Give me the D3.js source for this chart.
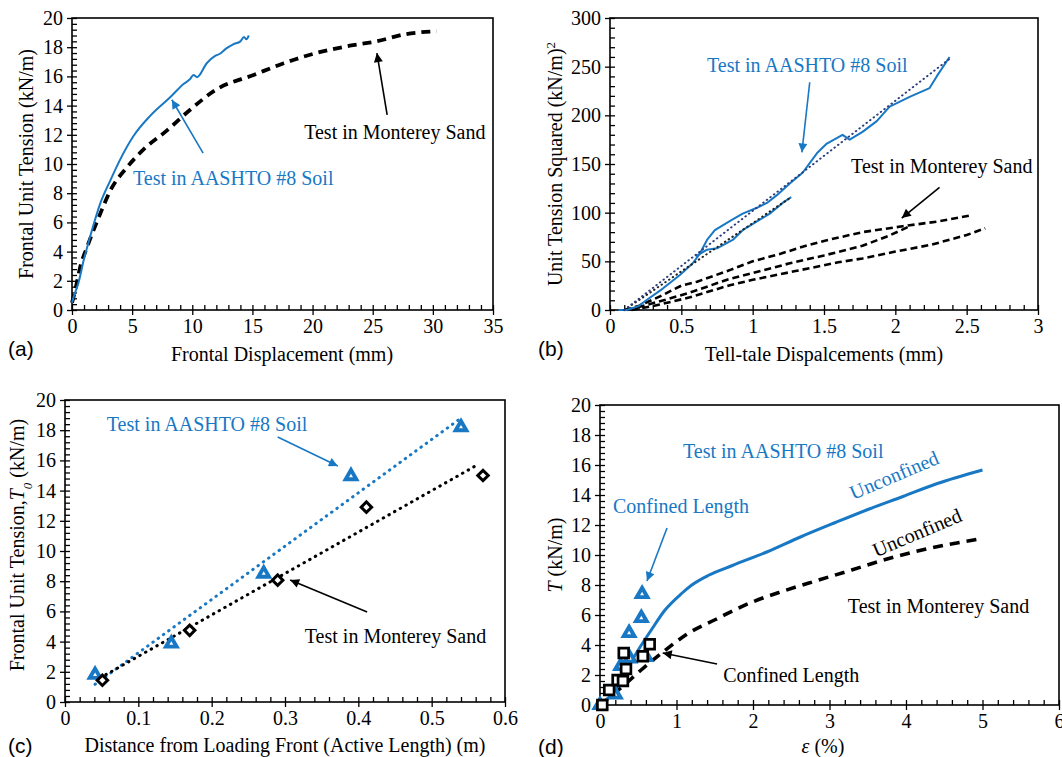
<!DOCTYPE html>
<html>
<head>
<meta charset="utf-8">
<script src="https://cdn.jsdelivr.net/npm/d3@7"></script>
<style>
  body { margin: 0; background: #fff; }
</style>
</head>
<body>
<svg id="fig" width="1062" height="757" style="font-family: 'Liberation Serif', 'DejaVu Serif', serif;"></svg>
<script>
var BLUE = '#1878c4';
var SERIF = "'Liberation Serif', 'DejaVu Serif', serif";
var SANS = "'Liberation Sans', Arial, sans-serif";

// (a) frontal unit tension vs frontal displacement
var aTicksX = [0, 5, 10, 15, 20, 25, 30, 35];
var aTicksY = [0, 2, 4, 6, 8, 10, 12, 14, 16, 18, 20];
var aAashto = [[0,0.5],[0.14,0.9],[0.55,1.9],[0.97,3.4],[1.5,5.0],[2.35,7.3],[3.2,8.9],[4.0,10.3],[5.1,11.9],
  [6.5,13.3],[8.2,14.6],[9.3,15.5],[9.8,15.8],[10.1,16.1],[10.4,15.95],[11.2,16.9],[11.9,17.4],[12.3,17.55],
  [12.8,17.9],[13.4,18.2],[14.0,18.4],[14.3,18.7],[14.5,18.55],[14.7,18.8]];
var aMonterey = [[0,0.5],[0.28,1.4],[0.7,3.0],[1.25,4.3],[2.35,6.6],[3.2,8.2],[4.6,9.8],[5.95,11.0],[7.9,12.3],
  [9.8,13.7],[12.0,15.1],[15.1,16.1],[17.6,16.9],[20.3,17.6],[23.1,18.1],[25.3,18.4],[27.8,18.9],[30.3,19.1]];

// (b) unit tension squared vs tell-tale displacements
var bTicksX = [0, 0.5, 1, 1.5, 2, 2.5, 3];
var bTicksY = [0, 50, 100, 150, 200, 250, 300];
var bAashto = [[0.06,0],[0.117,0],[0.2,4],[0.257,10.3],[0.37,22],[0.49,36],[0.58,48],[0.63,58],[0.68,72],
  [0.735,82],[0.79,87],[0.86,93],[0.93,99],[1.03,105],[1.10,110],[1.17,118],[1.26,130],[1.35,141],[1.45,161],
  [1.52,171],[1.63,180],[1.68,175],[1.77,183],[1.87,194],[1.96,209],[2.1,219],[2.24,228],[2.29,240],[2.38,260]];
var bAashtoLower = [[0.6,55],[0.68,62],[0.75,63.4],[0.86,72],[0.93,82],[1.03,91],[1.12,99],[1.21,110],[1.27,116]];
var bFitUpper = [[0.1,0],[2.38,258]];
var bFitLower = [[0.1,0],[1.26,115]];
var bMontereyTop = [[0.1,0],[0.2,4],[0.35,14],[0.5,25],[0.61,29],[0.84,41],[1.0,50],[1.2,58],[1.35,65],[1.5,71],
  [1.77,80],[2.05,86],[2.3,91],[2.52,97]];
var bMontereyMid = [[0.12,0],[0.25,5],[0.4,11],[0.56,18],[0.84,32],[1.0,38],[1.26,48],[1.5,56],[1.77,66],
  [1.95,76],[2.1,86]];
var bMontereyLow = [[0.15,0],[0.3,4],[0.56,13],[0.84,25.5],[1.0,31],[1.3,40],[1.6,49],[1.77,53],[2.0,60],
  [2.25,67],[2.5,77],[2.63,84]];

// (c) frontal unit tension vs active length
var cTicksX = [0, 0.1, 0.2, 0.3, 0.4, 0.5, 0.6];
var cTicksY = [0, 2, 4, 6, 8, 10, 12, 14, 16, 18, 20];
var cAashto = [[0.041,1.8],[0.145,3.87],[0.271,8.5],[0.39,14.96],[0.54,18.2]];
var cMonterey = [[0.051,1.44],[0.170,4.75],[0.29,8.07],[0.411,12.9],[0.57,15.0]];
var cFitAashto = [[0.041,1.17],[0.54,18.8]];
var cFitMonterey = [[0.048,1.6],[0.564,15.75]];

// (d) T vs strain
var dTicksX = [0, 1, 2, 3, 4, 5, 6];
var dTicksY = [0, 2, 4, 6, 8, 10, 12, 14, 16, 18, 20];
var dAashto = [[0,0],[0.2,1.0],[0.37,2.55],[0.5,3.67],[0.67,5.0],[0.85,6.33],[1.07,7.45],[1.2,8.0],[1.42,8.65],
  [1.73,9.3],[2.18,10.2],[2.62,11.2],[3.07,12.15],[3.51,13.05],[3.96,13.9],[4.4,14.75],[5.0,15.67]];
var dMonterey = [[0,0],[0.31,1.3],[0.53,2.3],[0.84,3.6],[1.16,4.8],[1.51,5.7],[1.96,6.8],[2.4,7.6],[2.84,8.3],
  [3.29,9.0],[3.73,9.7],[4.18,10.3],[5.0,11.1]];
var dConfAashto = [[0,0],[0.2,0.7],[0.27,2.6],[0.39,3.1],[0.38,4.8],[0.54,5.8],[0.55,7.4],[0.6,3.2]];
var dConfMonterey = [[0.03,0],[0.12,1.0],[0.23,1.67],[0.3,1.6],[0.34,2.4],[0.31,3.47],[0.56,3.25],[0.65,4.05]];

var svg = d3.select('#fig');
var defs = svg.append('defs');
[['arrBlue', BLUE], ['arrBlack', '#000']].forEach(function(a) {
  defs.append('marker')
    .attr('id', a[0])
    .attr('viewBox', '0 0 10 10')
    .attr('refX', 10).attr('refY', 5)
    .attr('markerUnits', 'userSpaceOnUse')
    .attr('markerWidth', 12).attr('markerHeight', 9)
    .attr('orient', 'auto')
    .append('path').attr('d', 'M0,0 L10,5 L0,10 z').attr('fill', a[1]);
});

function makePanel(o) {
  var g = svg.append('g').attr('font-family', SERIF);
  var x = d3.scaleLinear().domain([o.xTicks[0], o.xTicks[o.xTicks.length - 1]]).range([o.left, o.right]);
  var y = d3.scaleLinear().domain([o.yTicks[0], o.yTicks[o.yTicks.length - 1]]).range([o.bottom, o.top]);
  var xStep = (o.xTicks[1] - o.xTicks[0]) / 5;
  var yStep = (o.yTicks[1] - o.yTicks[0]) / 5;
  var xMinor = d3.range(x.domain()[0], x.domain()[1] + xStep / 2, xStep);
  var yMinor = d3.range(y.domain()[0], y.domain()[1] + yStep / 2, yStep);

  function clean(sel) {
    sel.select('.domain').remove();
    sel.attr('font-family', SERIF).attr('font-size', 20);
    sel.selectAll('line').attr('stroke-width', 1.3);
  }

  // inner ticks
  g.append('g').attr('transform', 'translate(0,' + o.bottom + ')')
    .call(d3.axisTop(x).tickValues(xMinor).tickSize(5).tickFormat('')).call(clean);
  g.append('g').attr('transform', 'translate(' + o.left + ',0)')
    .call(d3.axisRight(y).tickValues(yMinor).tickSize(5).tickFormat('')).call(clean);
  // outer major ticks with labels
  g.append('g').attr('transform', 'translate(0,' + o.bottom + ')')
    .call(d3.axisBottom(x).tickValues(o.xTicks).tickSize(5).tickPadding(4).tickFormat(d3.format('~g'))).call(clean);
  g.append('g').attr('transform', 'translate(' + o.left + ',0)')
    .call(d3.axisLeft(y).tickValues(o.yTicks).tickSize(5).tickPadding(4).tickFormat(d3.format('~g'))).call(clean);

  g.append('rect')
    .attr('x', o.left).attr('y', o.top)
    .attr('width', o.right - o.left).attr('height', o.bottom - o.top)
    .attr('fill', 'none').attr('stroke', '#000').attr('stroke-width', 1.6);

  return {
    g: g, x: x, y: y,
    path: function(data, stroke, width, dash, cap, curve) {
      var line = d3.line()
        .x(function(d) { return x(d[0]); })
        .y(function(d) { return y(d[1]); })
        .curve(curve || d3.curveLinear);
      g.append('path').datum(data)
        .attr('d', line)
        .attr('fill', 'none')
        .attr('stroke', stroke)
        .attr('stroke-width', width)
        .attr('stroke-dasharray', dash || null)
        .attr('stroke-linecap', cap || 'butt')
        .attr('stroke-linejoin', 'round');
    },
    points: function(data, type, size, stroke, width, rot, fill) {
      var pts = g.selectAll(null).data(data).enter().append('g')
        .attr('transform', function(d) {
          return 'translate(' + x(d[0]) + ',' + y(d[1]) + ')' + (rot ? ' rotate(' + rot + ')' : '');
        });
      pts.append('path')
        .attr('d', d3.symbol().type(type).size(size))
        .attr('fill', fill || '#fff')
        .attr('stroke', stroke)
        .attr('stroke-width', width)
        .attr('stroke-linejoin', 'miter');
      if (fill) {
        // small light core seen in the filled markers
        pts.append('path')
          .attr('d', d3.symbol().type(type).size(size / 14))
          .attr('fill', '#fff');
      }
    },
    text: function(str, px, py, color, rot) {
      return g.append('text')
        .attr('transform', 'translate(' + x(px) + ',' + y(py) + ')' + (rot ? ' rotate(' + rot + ')' : ''))
        .attr('fill', color)
        .attr('font-family', SERIF)
        .attr('font-size', 20)
        .attr('text-anchor', rot ? 'middle' : 'start')
        .text(str);
    },
    arrow: function(x1, y1, x2, y2, color, marker) {
      g.append('line')
        .attr('x1', x(x1)).attr('y1', y(y1)).attr('x2', x(x2)).attr('y2', y(y2))
        .attr('stroke', color).attr('stroke-width', 1.6)
        .attr('marker-end', marker ? 'url(#' + marker + ')' : null);
    }
  };
}

function yTitle(px, py, parts) {
  var t = svg.append('text')
    .attr('transform', 'translate(' + px + ',' + py + ') rotate(-90)')
    .attr('font-family', SERIF)
    .attr('text-anchor', 'middle').attr('font-size', 20);
  parts.forEach(function(p) {
    var s = t.append('tspan').text(p.t);
    if (p.i) s.attr('font-style', 'italic');
    if (p.shift) s.attr('baseline-shift', p.shift).attr('font-size', 13);
  });
  return t;
}

function xTitle(px, py, parts) {
  var t = svg.append('text')
    .attr('x', px).attr('y', py)
    .attr('font-family', SERIF)
    .attr('text-anchor', 'middle').attr('font-size', 20);
  parts.forEach(function(p) {
    var s = t.append('tspan').text(p.t);
    if (p.i) s.attr('font-style', 'italic');
  });
  return t;
}

function panelLabel(str, px, py) {
  svg.append('text')
    .attr('font-family', SANS)
    .attr('x', px).attr('y', py).attr('font-size', 21).text(str);
}

// ---- (a)
var pa = makePanel({left: 72, right: 493, top: 18, bottom: 310, xTicks: aTicksX, yTicks: aTicksY});
pa.path(aMonterey, '#000', 3.8, '9,6', null, d3.curveMonotoneX);
pa.path(aAashto, BLUE, 2, null, null, d3.curveMonotoneX);
pa.text('Test in AASHTO #8 Soil', 5.07, 8.56, BLUE);
pa.arrow(10.9, 10.75, 8.3, 14.4, BLUE, 'arrBlue');
pa.text('Test in Monterey Sand', 19.3, 11.7, '#000');
pa.arrow(26.2, 13.36, 25.35, 17.6, '#000', 'arrBlack');
yTitle(33, 164, [{t: 'Frontal Unit Tension (kN/m)'}]);
xTitle(282, 361, [{t: 'Frontal Displacement (mm)'}]);
panelLabel('(a)', 8, 356);

// ---- (b)
var pb = makePanel({left: 610, right: 1038, top: 18, bottom: 310, xTicks: bTicksX, yTicks: bTicksY});
pb.path(bMontereyLow, '#000', 2.6, '7,4');
pb.path(bMontereyMid, '#000', 2.6, '7,4');
pb.path(bMontereyTop, '#000', 2.6, '7,4');
pb.path(bAashto, BLUE, 2);
pb.path(bAashtoLower, BLUE, 2);
pb.path(bFitLower, '#222', 2, '0.5,4', 'round');
pb.path(bFitUpper, '#2a3d7c', 2, '0.5,4', 'round');
pb.text('Test in AASHTO #8 Soil', 0.68, 244.5, BLUE);
pb.arrow(1.40, 234, 1.345, 162, BLUE, 'arrBlue');
pb.text('Test in Monterey Sand', 1.69, 140.8, '#000');
pb.arrow(2.31, 126, 2.045, 94.5, '#000', 'arrBlack');
yTitle(562, 164, [{t: 'Unit Tension Squared (kN/m)'}, {t: '2', shift: 'super'}]);
xTitle(824, 361, [{t: 'Tell-tale Dispalcements (mm)'}]);
panelLabel('(b)', 538, 356);

// ---- (c)
var pc = makePanel({left: 65, right: 505, top: 400, bottom: 702, xTicks: cTicksX, yTicks: cTicksY});
pc.path(cFitAashto, BLUE, 3, '0.5,6', 'round');
pc.path(cFitMonterey, '#000', 3, '0.5,6', 'round');
pc.points(cAashto, d3.symbolTriangle, 95, BLUE, 1.5, 0, BLUE);
pc.points(cMonterey, d3.symbolSquare, 55, '#000', 3, 45);
pc.text('Test in AASHTO #8 Soil', 0.057, 17.95, BLUE);
pc.arrow(0.29, 17.55, 0.372, 15.63, BLUE, 'arrBlue');
pc.text('Test in Monterey Sand', 0.327, 3.9, '#000');
pc.arrow(0.412, 5.96, 0.307, 8.08, '#000', 'arrBlack');
yTitle(24, 545, [{t: 'Frontal Unit Tension,'}, {t: 'T', i: true}, {t: '0', i: true, shift: 'sub'}, {t: ' (kN/m)'}]);
xTitle(285, 752, [{t: 'Distance from Loading Front (Active Length) (m)'}]);
panelLabel('(c)', 8, 753);

// ---- (d)
var pd = makePanel({left: 600, right: 1059, top: 405, bottom: 705, xTicks: dTicksX, yTicks: dTicksY});
pd.path(dMonterey, '#000', 3.6, '10,7', null, d3.curveMonotoneX);
pd.path(dAashto, BLUE, 3, null, null, d3.curveMonotoneX);
pd.points(dConfAashto, d3.symbolTriangle, 95, BLUE, 1.5, 0, BLUE);
pd.points(dConfMonterey, d3.symbolSquare, 95, '#000', 2.7);
pd.text('Test in AASHTO #8 Soil', 1.085, 16.47, BLUE);
pd.text('Unconfined', 3.88, 14.9, BLUE, -23);
pd.text('Confined Length', 0.17, 12.8, BLUE);
pd.arrow(0.876, 11.8, 0.614, 8.27, BLUE, 'arrBlue');
pd.text('Unconfined', 4.18, 11.07, '#000', -23);
pd.text('Test in Monterey Sand', 3.24, 6.13, '#000');
pd.text('Confined Length', 1.61, 1.53, '#000');
pd.arrow(1.53, 2.73, 0.82, 3.47, '#000', 'arrBlack');
yTitle(562, 555, [{t: 'T', i: true}, {t: '  (kN/m)'}]);
xTitle(823, 753, [{t: 'ε', i: true}, {t: ' (%)'}]);
panelLabel('(d)', 538, 754);
</script>
</body>
</html>
